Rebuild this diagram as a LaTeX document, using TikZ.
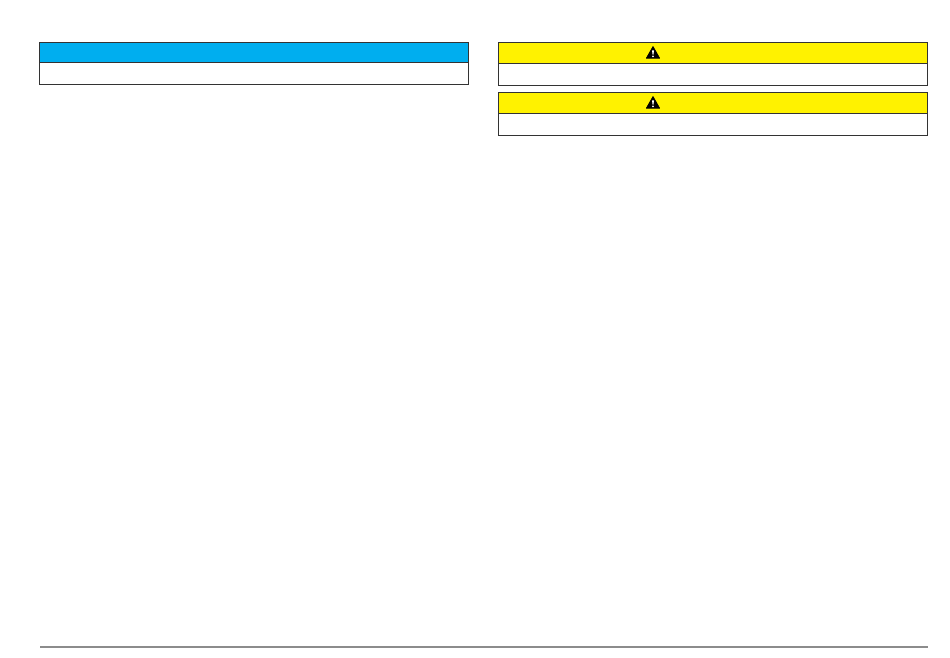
\documentclass[tikz,border=0pt]{standalone}
\usepackage{xcolor}
\usetikzlibrary{positioning}
\definecolor{noteblue}{RGB}{0,174,239}
\definecolor{warnyellow}{RGB}{255,242,0}
\tikzset{
  headbox/.style={draw=black!80,line width=1pt,minimum width=429pt,inner sep=0pt,outer sep=0pt,anchor=north west},
  bodybox/.style={draw=black!80,line width=1pt,fill=white,minimum width=429pt,inner sep=0pt,outer sep=0pt,anchor=north},
  warnsign/.pic={
    \fill[black,line join=round,draw=black,line width=0.8pt] (-6.6,5.7) -- (0,-5.9) -- (6.6,5.7) -- cycle;
    \fill[white] (-1,-2.2) -- (1,-2.2) -- (0.45,2.2) -- (-0.45,2.2) -- cycle;
    \fill[white] (0,3.9) circle (1);
  }
}
\begin{document}
\begin{tikzpicture}[x=1pt,y=-1pt]
        \useasboundingbox (0,0) rectangle (950,657);

        % Blue box on the left
        \node[headbox,fill=noteblue,minimum height=20pt] (note) at (39.6,42.5) {};
        \node[bodybox,minimum height=22pt,below=0pt of note] (notebody) {};

        % First yellow box
        \node[headbox,fill=warnyellow,minimum height=21pt] (warnone) at (498.5,42.5) {};
        \node[bodybox,minimum height=22pt,below=0pt of warnone] (warnonebody) {};
        \pic at (653,52.5) {warnsign};

        % Second yellow box
        \node[headbox,fill=warnyellow,minimum height=21pt] (warntwo) at (498.5,92.5) {};
        \node[bodybox,minimum height=22pt,below=0pt of warntwo] (warntwobody) {};
        \pic at (653,102.5) {warnsign};

        % Footer rule
        \coordinate (footl) at (40,646.7);
        \coordinate (footr) at (928,646.7);
        \draw[black!45,line width=1.8pt] (footl) -- (footr);
\end{tikzpicture}
\end{document}
